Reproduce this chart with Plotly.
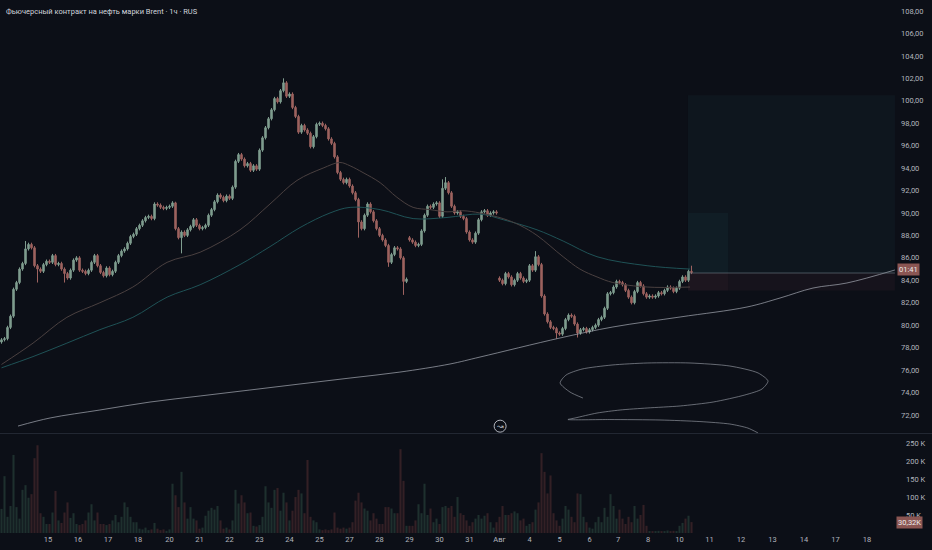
import plotly.graph_objects as go

TITLE = "Фьючерсный контракт на нефть марки Brent · 1ч · RUS"

# hourly closes from left to right
closes = [
    78.7, 78.8, 79.8, 80.8, 83.2, 83.8, 85.0, 85.5, 86.8, 87.2,
    86.9, 85.3, 85.0, 84.8, 85.4, 85.7, 85.6, 86.2, 85.4, 85.5,
    85.0, 84.6, 84.2, 84.9, 85.8, 86.0, 84.9, 84.8, 84.6, 84.9,
    85.6, 86.2, 85.3, 84.7, 84.4, 85.1, 84.5, 84.8, 85.6, 86.2,
    86.6, 86.8, 87.3, 87.9, 88.1, 88.6, 88.9, 89.3, 89.6, 89.7,
    89.5, 90.8, 90.7, 90.5, 90.4, 90.5, 90.6, 90.9, 88.6, 87.8,
    88.3, 88.0, 88.5, 88.8, 89.4, 88.9, 88.6, 88.7, 88.9, 89.8,
    90.3, 91.0, 91.6, 91.4, 91.1, 91.5, 91.3, 92.3, 94.6, 95.2,
    94.8, 94.2, 94.4, 93.8, 94.2, 93.9, 95.6, 96.7, 97.6, 98.4,
    99.2, 100.2, 99.9, 100.9, 101.6, 100.4, 100.6, 99.4, 98.6, 97.2,
    97.8, 97.4, 97.1, 95.9, 96.8, 97.9, 98.0, 97.8, 97.5, 96.6,
    96.2, 95.0, 93.6, 93.0, 92.7, 93.0, 92.4, 91.8, 91.2, 89.2,
    88.6, 89.8, 90.8, 90.1, 89.3, 88.6, 88.0, 87.6, 87.1, 85.6,
    86.3, 86.9, 86.8, 86.0, 83.9, 84.1, 87.6, 87.4, 87.1, 87.2,
    88.4, 89.8, 90.6, 90.5, 90.8, 90.9, 89.7, 92.2, 92.7, 91.8,
    90.6, 90.0, 90.1, 89.7, 89.5, 88.3, 87.6, 87.4, 88.2, 89.4,
    90.1, 90.2, 89.8, 90.0, 90.1, 90.0, 84.0, 83.7, 84.6, 84.3,
    83.6, 84.0, 84.6, 84.2, 83.9, 84.0, 85.3, 84.9, 86.1, 85.4,
    82.6, 81.0, 80.3, 79.8, 79.7, 79.3, 79.2, 79.7, 80.5, 80.9,
    80.8, 80.1, 79.3, 79.6, 79.7, 79.4, 79.6, 79.8, 80.0, 80.5,
    80.7, 81.5, 82.8, 82.9, 83.4, 83.9, 83.8, 83.6, 83.1, 82.5,
    82.0, 83.0, 83.8, 83.5, 82.8, 82.5, 82.6, 82.5, 82.6, 82.9,
    82.8, 83.1, 83.4, 83.3, 83.0, 83.3, 83.9, 84.3, 84.0, 84.8,
    84.7,
]
first_open = 78.5
gap_opens = {136: 87.8, 166: 84.2}
spike_highs = {8: 87.5, 58: 91.0, 94: 102.0, 147: 93.0, 148: 93.2, 178: 86.6, 230: 85.3}
spike_lows = {12: 83.8, 21: 83.8, 60: 86.4, 119: 87.8, 129: 85.2, 134: 82.7, 185: 78.8, 192: 78.9}

# volume in thousands
volumes_k = [
    67, 158, 45, 75, 217, 72, 40, 120, 133, 98,
    108, 208, 244, 55, 45, 25, 25, 57, 117, 35,
    28, 57, 85, 42, 55, 25, 22, 25, 35, 57,
    80, 35, 57, 25, 25, 22, 25, 35, 50, 30,
    45, 85, 72, 45, 30, 30, 12, 10, 15, 8,
    10, 28, 12, 8, 10, 6, 10, 137, 105, 72,
    170, 85, 40, 72, 40, 35, 12, 15, 48, 62,
    70, 65, 75, 35, 12, 15, 10, 35, 120, 82,
    105, 85, 55, 57, 20, 18, 22, 45, 130, 85,
    70, 120, 125, 62, 112, 85, 35, 62, 100, 120,
    110, 55, 203, 45, 35, 30, 10, 8, 10, 8,
    10, 57, 15, 12, 15, 12, 15, 30, 90, 112,
    85, 68, 62, 35, 55, 40, 25, 25, 72, 72,
    68, 55, 55, 233, 145, 20, 20, 20, 35, 80,
    55, 137, 50, 68, 30, 40, 25, 72, 75, 70,
    75, 45, 100, 55, 50, 35, 20, 30, 40, 50,
    40, 48, 55, 30, 15, 30, 45, 75, 50, 50,
    55, 60, 55, 35, 40, 20, 25, 30, 65, 85,
    222, 170, 110, 160, 55, 35, 20, 40, 75, 65,
    45, 30, 110, 108, 45, 30, 15, 12, 30, 45,
    30, 70, 45, 108, 75, 40, 65, 40, 25, 45,
    30, 75, 40, 50, 78, 20, 5, 4, 5, 6,
    4, 5, 7, 5, 6, 5, 20, 28, 40, 48,
    30.32,
]

day_labels = ["15", "16", "17", "18", "20", "21", "22", "23", "24", "25", "27", "28", "29", "30",
              "31", "Авг", "4", "5", "6", "7", "8", "10", "11", "12", "13", "14", "17", "18"]
day_bars = [15.5, 25.5, 35.5, 45.5, 56, 66, 76, 86, 96, 106, 116, 126, 136, 146,
            156, 166, 176, 186, 196, 205.5, 215.5, 226, 236, 246.5, 257, 267.5, 278, 288.5]

# moving averages, sampled along the lines
ma_fast_bars = [0, 10.5, 21.8, 32.8, 43.8, 55.2, 66.2, 79.5, 89.5, 98.5, 107.2, 112.8, 116.2, 120.5,
                126.2, 131.8, 137.2, 142.8, 148.5, 153.8, 159.5, 167.2, 172.8, 178.5, 187.2, 192.8,
                198.5, 203.8, 215.2, 229.5]
ma_fast = [76.5, 78.4, 80.7, 82.0, 83.4, 85.6, 86.5, 88.5, 90.8, 92.9, 94.0, 94.5, 94.2, 93.6,
           92.7, 91.4, 90.5, 90.3, 90.1, 90.2, 90.0, 89.5, 88.9, 88.0, 86.1, 85.0,
           84.3, 83.8, 83.4, 83.4]
ma_slow_bars = [0, 10.5, 21.8, 32.8, 43.8, 55.2, 66.2, 79.5, 89.5, 99.5, 109.5, 116.2, 126.2, 137.2,
                148.5, 159.5, 167.2, 178.5, 187.2, 198.5, 215.2, 229.5]
ma_slow = [76.2, 77.2, 78.4, 79.6, 80.7, 82.5, 83.6, 85.4, 87.0, 88.7, 90.0, 90.5, 90.3, 89.5,
           89.6, 89.9, 89.4, 88.5, 87.5, 86.1, 85.3, 85.0]

# hand drawings
trend_bars = [5.5, 16.2, 32.8, 49.5, 66.2, 82.8, 99.5, 116.2, 132.8, 149.5, 159.5, 186.2, 203.8,
              226.2, 248.5, 259.5, 270.5, 281.8, 297.8]
trend_prices = [71.01, 71.73, 72.44, 73.15, 73.69, 74.22, 74.76, 75.29, 75.82, 76.54, 77.16, 78.86,
                79.84, 80.73, 81.62, 82.42, 83.31, 83.76, 84.92]
scribble_bars = [193.8, 189.5, 186.2, 188.2, 193.5, 203.5, 215.2, 229.5, 242.8, 252.2, 255.5, 253.5,
                 247.8, 237.2, 226.2, 215.2, 206.2, 198.5, 191.2, 188.8, 202.8, 219.5, 232.8,
                 242.8, 248.8, 252.2]
scribble_prices = [73.51, 74.04, 74.85, 75.56, 76.09, 76.45, 76.63, 76.63, 76.36, 75.74, 75.02, 74.31,
                   73.78, 73.15, 72.80, 72.62, 72.44, 72.17, 71.73, 71.59, 71.59, 71.55, 71.41,
                   71.19, 70.83, 70.39]

# long position tool
pos_start, pos_inner_end, pos_end = 228.8, 242.2, 297.8
entry_price, target_price, inner_target, stop_price = 84.65, 100.5, 90.0, 83.1

BG = "#0c0f17"
TXT = "#b2b5be"
UP, DOWN = "#7f9d8f", "#9e6360"
UP_VOL, DOWN_VOL = "#1e302e", "#332025"
FONT = "Roboto"
TICK_SIZE = 7.5

bars = list(range(len(closes)))
opens = []
for i, c in enumerate(closes):
    if i in gap_opens:
        opens.append(gap_opens[i])
    elif i == 0:
        opens.append(first_open)
    else:
        opens.append(closes[i - 1])
highs = [spike_highs.get(i, max(o, c) + 0.15) for i, (o, c) in enumerate(zip(opens, closes))]
lows = [spike_lows.get(i, min(o, c) - 0.15) for i, (o, c) in enumerate(zip(opens, closes))]
vol_colors = [UP_VOL if c >= o else DOWN_VOL for o, c in zip(opens, closes)]

fig = go.Figure()

# position boxes go under the candles
box_shapes = [
    (pos_start, pos_end, entry_price, target_price, "rgba(45,100,115,0.09)"),
    (pos_start, pos_end, stop_price, entry_price, "rgba(120,60,75,0.10)"),
    (pos_start, pos_inner_end, entry_price, inner_target, "rgba(45,100,115,0.09)"),
    (pos_start, pos_inner_end, stop_price, entry_price, "rgba(120,60,75,0.08)"),
]
for x0, x1, y0, y1, col in box_shapes:
    fig.add_shape(type="rect", xref="x", yref="y", x0=x0, x1=x1, y0=y0, y1=y1,
                  fillcolor=col, line_width=0, layer="below")
fig.add_shape(type="line", xref="x", yref="y", x0=pos_start, x1=pos_end, y0=entry_price, y1=entry_price,
              line=dict(color="rgba(110,125,135,0.6)", width=1))

fig.add_trace(go.Scatter(x=ma_slow_bars, y=ma_slow, mode="lines", hoverinfo="skip",
                         line=dict(color="#1f5256", width=1, shape="spline")))
fig.add_trace(go.Scatter(x=ma_fast_bars, y=ma_fast, mode="lines", hoverinfo="skip",
                         line=dict(color="#4a4040", width=1, shape="spline")))
fig.add_trace(go.Scatter(x=trend_bars, y=trend_prices, mode="lines", hoverinfo="skip",
                         line=dict(color="rgba(165,170,180,0.7)", width=1, shape="spline")))
fig.add_trace(go.Scatter(x=scribble_bars, y=scribble_prices, mode="lines", hoverinfo="skip",
                         line=dict(color="rgba(150,155,165,0.65)", width=1, shape="spline", smoothing=0.7),
                         cliponaxis=True))

fig.add_trace(go.Candlestick(
    x=bars, open=opens, high=highs, low=lows, close=closes,
    increasing=dict(line=dict(color=UP, width=1), fillcolor=UP),
    decreasing=dict(line=dict(color=DOWN, width=1), fillcolor=DOWN),
    whiskerwidth=0, hoverinfo="skip",
))
fig.add_trace(go.Bar(x=bars, y=volumes_k, marker=dict(color=vol_colors, line_width=0),
                     width=0.7, yaxis="y2", hoverinfo="skip"))

fig.update_layout(
    width=932, height=550,
    margin=dict(l=0, r=37, t=0, b=17),
    paper_bgcolor=BG, plot_bgcolor=BG,
    separators=", ",
    showlegend=False,
    font=dict(family=FONT, size=TICK_SIZE, color=TXT),
    xaxis=dict(range=[-0.5, 297.83], tickvals=day_bars, ticktext=day_labels, anchor="y2",
               showgrid=False, zeroline=False, showline=False, ticks="",
               rangeslider=dict(visible=False), tickfont=dict(size=TICK_SIZE, color=TXT)),
    yaxis=dict(domain=[0.1876, 1], range=[70.39, 108.98], side="right", dtick=2, tick0=0,
               tickformat=".2f", showgrid=False, zeroline=False, showline=False, ticks="",
               ticklabelstandoff=5, tickfont=dict(size=TICK_SIZE, color=TXT)),
    yaxis2=dict(domain=[0, 0.18], range=[0, 266.7], side="right", anchor="x",
                tickvals=[50, 100, 150, 200, 250], ticktext=["50 K", "100 K", "150 K", "200 K", "250 K"],
                showgrid=False, zeroline=False, showline=False, ticks="",
                ticklabelstandoff=10, tickfont=dict(size=TICK_SIZE, color=TXT)),
)

# pane separator
fig.add_shape(type="line", xref="paper", yref="paper", x0=0, x1=1.05, y0=0.1867, y1=0.1867,
              line=dict(color="#232833", width=1))

fig.add_annotation(text=TITLE, xref="paper", yref="paper", x=0, y=1, xanchor="left", yanchor="top",
                   xshift=4, yshift=-5, showarrow=False, font=dict(size=7.5, color="#d1d4dc"))
fig.add_annotation(text="01:41", xref="paper", yref="y", x=1, y=85.0, xanchor="left", xshift=2,
                   showarrow=False, bgcolor="#8b5653", borderpad=1, font=dict(size=TICK_SIZE, color="#ececec"))
fig.add_annotation(text="30,32K", xref="paper", yref="y2", x=1, y=volumes_k[-1], xanchor="left", xshift=1,
                   showarrow=False, bgcolor="#8b5653", borderpad=1, font=dict(size=TICK_SIZE, color="#ececec"))

# small marker icon under the candles
fig.add_shape(type="circle", xref="x", yref="y", xsizemode="pixel", ysizemode="pixel",
              xanchor=166.2, yanchor=71.0, x0=-6, x1=6, y0=-6, y1=6,
              line=dict(color="#b2b5be", width=1))
fig.add_annotation(text="↝", xref="x", yref="y", x=166.2, y=71.0, showarrow=False,
                   font=dict(size=8, color="#b2b5be"))

fig.write_html("out.html", config={"displayModeBar": False},
               post_script="document.body.style.margin='0';document.body.style.background='%s';" % BG)
